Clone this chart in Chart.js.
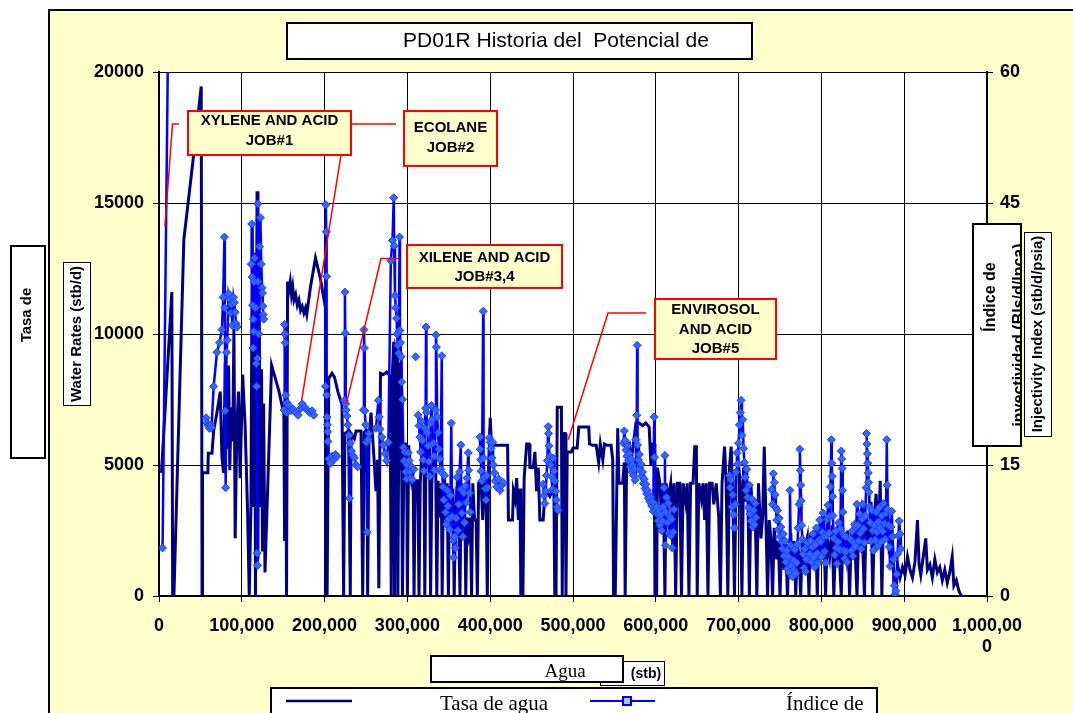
<!DOCTYPE html>
<html>
<head>
<meta charset="utf-8">
<script src="https://cdn.jsdelivr.net/npm/chart.js@4.4.1/dist/chart.umd.min.js"></script>
<style>
  html, body { margin: 0; padding: 0; background: #fff; }
  #wrap { position: relative; width: 1073px; height: 713px; }
</style>
</head>
<body>
<div id="wrap"><canvas id="chart"></canvas></div>
<script>
// PD01R - tasa de agua vs. índice de inyectividad (eje x: agua acumulada)

const NAVY  = '#000080';
const BLUE  = '#0000FF';
const PAPER = '#FFFFCC';
const SANS  = "'Liberation Sans', Arial, sans-serif";
const SERIF = "'Liberation Serif', 'Times New Roman', serif";

const titleText = 'PD01R Historia del  Potencial de';

const xTickLabels = ['0', '100,000', '200,000', '300,000', '400,000', '500,000',
  '600,000', '700,000', '800,000', '900,000', '1,000,000'];
const rateTicks  = [0, 5000, 10000, 15000, 20000];
const indexTicks = [0, 15, 30, 45, 60];

// Tasa de agua (stb/d) vs agua acumulada (miles de stb)
const aguaAcumK = [
  3, 15.5, 16.5, 18, 30, 41, 51, 52, 52.5, 59,
  59.5, 64, 66, 70, 74, 76, 78, 80, 82, 84,
  85.5, 87, 89, 90.5, 92, 94, 96, 98, 101, 104,
  107, 109, 111, 112.7, 114, 115.6, 116.5, 118.4, 119.5, 120.8,
  122, 123.8, 125, 126.3, 128, 136, 144.6, 150.8, 151.7, 153,
  154, 155.3, 157, 158.5, 160, 161.5, 163, 165, 167, 169,
  171, 173, 175, 177, 178.5, 183, 189, 195, 201, 201.5,
  203, 205, 209, 212, 216, 221, 223, 224.5, 229, 231,
  232, 236, 238, 244, 246, 248, 251, 252, 253.5, 256,
  259.6, 262, 264, 265.5, 267.5, 271, 275, 279, 280.5, 282,
  283.5, 284.5, 286, 287.5, 288.5, 290, 291, 292.5, 294, 296,
  299, 300, 301.5, 305, 307, 308, 309.5, 312, 313, 314,
  315.5, 318, 320, 321, 322.5, 325, 327, 328, 329.5, 332,
  334, 335.5, 337, 339, 341, 342, 343.5, 346, 348, 349.5,
  351, 353, 355, 356.5, 358, 360, 362, 363.5, 365, 367,
  369, 370.5, 372, 374, 376, 377.5, 379, 381, 383, 384.5,
  386, 389, 391, 393, 395, 396.5, 398, 400, 401.5, 405,
  410, 415, 421, 422, 427, 428, 430, 432, 434, 436,
  437, 439.5, 441, 444, 447, 448, 452, 454, 456, 458,
  460, 464, 466, 470, 472, 475, 477, 478, 479.5, 481,
  486, 487, 488.5, 490.5, 491.5, 493, 498, 500, 505, 507,
  513, 519, 520, 524, 528, 531, 533, 536, 538, 541,
  546, 548, 549, 551, 553, 554, 555.5, 560, 562, 563,
  565, 568, 570, 573, 576, 580, 584, 588, 592, 594,
  596, 598, 599, 601, 602, 605, 607, 609, 611, 612.5,
  615, 618, 620, 622, 624, 626, 629, 631, 633, 636,
  638, 640, 642, 645, 647, 649, 650, 652, 655, 657,
  659, 661, 663, 665, 668, 670, 673, 676, 678, 680,
  683, 685, 687, 689, 691, 693, 695, 697, 700, 702,
  704, 706, 709, 711, 713, 715, 717, 720, 722, 724,
  727, 729, 731, 733, 735, 737, 739, 741, 743, 746,
  748, 750, 752, 755, 757, 759, 761, 763, 765, 767,
  769, 771, 773, 775, 777, 780, 783, 785, 787, 790,
  793, 795, 797, 800, 803, 805, 807, 810, 813, 815,
  817, 820, 822, 824, 826, 829, 832, 834, 836, 839,
  841, 843, 845, 848, 850, 852, 854, 857, 860, 862,
  864, 866, 869, 871, 873, 875, 878, 880, 882, 884,
  886, 888, 890, 892, 895, 898, 901, 904, 907, 910,
  913, 916, 918, 920, 923, 926, 928, 931, 934, 937,
  940, 943, 946, 949, 952, 955, 958, 960, 963, 966,
  969
];
const tasaAgua = [
  4700, 11600, 0, 0, 13600, 16600, 19450, 0, 4700, 4700,
  5450, 5450, 6300, 7000, 7800, 5300, 4700, 8900, 5600, 8800,
  4800, 7200, 5900, 10200, 2200, 6400, 7800, 4500, 8450, 6500,
  3200, 0, 3400, 14100, 3400, 13100, 0, 15450, 1400, 13600,
  3400, 8650, 1700, 7350, 900, 8800, 7850, 6950, 2100, 8000,
  0, 12000, 11700, 12000, 11500, 11800, 11300, 11500, 11100, 11300,
  10900, 11050, 10800, 11000, 10750, 11800, 12900, 12100, 11000, 0,
  0, 8300, 8500, 8350, 7800, 7300, 0, 6200, 6300, 0,
  6200, 6000, 6300, 6300, 0, 6250, 6300, 0, 5900, 7000,
  5300, 4000, 5200, 300, 8500, 8450, 8550, 8400, 0, 8600,
  9700, 0, 9400, 9200, 0, 8900, 4800, 8700, 0, 5800,
  5800, 0, 5750, 4400, 4350, 0, 4400, 4400, 3500, 0,
  4300, 5800, 5600, 0, 5800, 5700, 4400, 0, 4300, 5800,
  5700, 0, 4400, 3000, 4300, 0, 4200, 2900, 4300, 0,
  4200, 3200, 4100, 0, 2900, 4200, 2900, 0, 4300, 2400,
  4200, 0, 3000, 2400, 3000, 0, 4300, 2900, 2900, 0,
  4300, 4300, 2900, 4400, 4200, 0, 4300, 6800, 5800, 5750,
  5750, 5750, 5750, 2900, 2900, 4000, 3700, 4500, 2900, 4100,
  0, 0, 4500, 5800, 5800, 4900, 4900, 5500, 4000, 4900,
  2900, 2900, 3900, 3900, 3800, 4000, 3900, 0, 0, 7200,
  7200, 0, 6200, 6200, 0, 5500, 5500, 5650, 5650, 6450,
  6450, 6450, 5800, 5750, 5750, 5100, 5800, 5200, 5800, 5750,
  5750, 5200, 0, 0, 4300, 6400, 4300, 4300, 5100, 0,
  5700, 5800, 5100, 5800, 6600, 6600, 6500, 6600, 6450, 5000,
  5800, 5800, 0, 0, 4900, 4300, 2900, 4300, 0, 4300,
  3700, 4300, 2900, 4300, 0, 4300, 4300, 0, 4300, 3600,
  4300, 0, 4300, 4300, 5700, 5700, 0, 4300, 3700, 4300,
  2900, 4300, 0, 4300, 4300, 3500, 4300, 3000, 0, 4300,
  5700, 4300, 0, 4900, 5700, 4000, 0, 4600, 5000, 4300,
  0, 4900, 3600, 4300, 0, 4200, 2900, 3300, 0, 4300,
  2200, 3000, 5700, 2900, 0, 2900, 2200, 0, 2600, 1400,
  2100, 0, 2200, 1000, 2000, 0, 1800, 2400, 900, 2100,
  0, 2000, 1500, 0, 2300, 1700, 2200, 0, 2400, 1800,
  2500, 0, 2300, 1400, 2600, 0, 2200, 1500, 2700, 0,
  2000, 2700, 1300, 0, 2300, 1600, 2500, 0, 2100, 2800,
  1500, 0, 2600, 3200, 1800, 0, 3000, 2000, 3600, 0,
  3000, 3900, 2200, 4400, 0, 3200, 2400, 3500, 1600, 2800,
  2000, 0, 0, 1200, 700, 1100, 800, 1500, 1000, 700,
  1300, 2900, 1200, 800, 1500, 2200, 1000, 1200, 700, 1400,
  900, 1100, 600, 1000, 500, 900, 1500, 400, 600, 200,
  0
];

// Índice de inyectividad (stb/d/psia) vs agua acumulada (miles de stb); null = sin dato
const aguaIndiceK = [
  4.3, 11, 30, 57, 58, 59.5, 61, 62.5, 63.5, 66,
  70, 73, 76, 77.5, 79, 79.5, 80, 80.5, 81.5, 82.5,
  84, 85.5, 86.5, 87.5, 88.5, 90, 91, 92, 93, 94.5,
  100, 111.5, 112, 112.5, 113, 113.5, 114, 114.5, 115, 115.5,
  116.5, 117.5, 118, 118.5, 118.8, 119, 119.3, 119.6, 120.5, 121.5,
  122.5, 123.5, 124.5, 125, 125.5, 126, 126.5, 140, 151, 151.5,
  152, 152.5, 153, 154, 155, 157, 159, 162, 165, 168,
  171, 173, 176, 179, 182, 185, 187, 195, 201, 201.5,
  202, 202.3, 202.6, 203, 203.3, 203.6, 204, 205, 207, 209,
  211, 213, 215, 220, 224, 224.5, 225, 225.5, 226, 227,
  228, 229.5, 230, 231, 232.5, 234, 236, 238, 240, 244,
  247, 247.5, 248, 248.5, 249.5, 250.5, 251.5, 252.5, 253.5, 258,
  262, 265, 266, 267, 269, 271, 273, 275, 277, 280,
  282, 283.5, 284, 285, 286, 287, 287.5, 288.5, 289.5, 290.5,
  291, 291.5, 292.5, 293, 294, 295, 296, 297, 298, 299,
  300, 301, 302, 303, 304, 305, 306, 308, 309, 310,
  311, 313, 314, 315, 316, 317, 318, 319, 320, 321,
  322, 322.5, 323, 324, 325, 326, 327, 328, 329, 330,
  331, 332, 333, 334, 334.5, 335, 336, 337, 338, 339,
  340, 341.5, 342, 343, 344, 345, 346, 347, 348, 349,
  350, 351, 352, 353, 354, 355, 356, 357, 358, 359,
  360, 361, 362, 363, 364.5, 365, 366, 367, 368, 369,
  370, 371, 372, 373.5, 374, 375, 376, 382, 387.5, 388,
  388.5, 389, 390, 391.5, 392, 393, 394, 395, 396, 397,
  399, 400, 401, 402, 403, 404, 405, 406, 408, 410,
  412, 414, 415.5, 440, 464, 465, 466, 467, 468, 469,
  470, 470.5, 471, 472, 473, 474, 475, 476, 477, 478,
  479, 480, 481, 482, 520, 561, 562, 563, 564, 565,
  566, 567, 568, 569, 570, 571, 572, 573, 574, 575,
  576, 577, 577.5, 578, 579, 580, 581, 582, 583, 584,
  585, 586, 587, 588, 589, 590, 591, 592, 593, 594,
  595, 596, 597, 598, 598.5, 599, 600, 601, 602, 603,
  604, 605, 606, 607, 608, 609, 610, 611, 611.5, 612,
  613, 614, 615, 616, 617, 618, 619, 620, 621, 622,
  650, 689, 690, 691, 692, 693, 694, 695, 696, 697,
  698, 699, 700, 701, 702, 703, 704, 705, 706, 707,
  708, 709, 710, 711, 712, 713, 714, 715, 716, 717,
  718, 719, 720, 721, 730, 740, 741, 742, 743, 744,
  745, 746, 747, 748, 749, 750, 751, 752, 753, 754,
  755, 756, 757, 758, 759, 760, 761, 762, 763, 764,
  765, 766, 767, 768, 769, 770, 771, 772, 773, 774,
  774.5, 775, 775.5, 776, 777, 778, 779, 780, 781, 782,
  783, 786, 787, 788, 789, 790, 791, 792, 793, 794,
  795, 796, 797, 798, 799, 800, 801, 802, 803, 804,
  805, 806, 807, 808, 809, 810, 811, 812, 812.5, 813,
  813.5, 814, 815, 816, 817, 818, 819, 820, 821, 822,
  823, 824, 824.5, 825, 825.5, 826, 826.5, 827, 828, 829,
  830, 831, 835, 836, 837, 838, 839, 840, 841, 842,
  843, 844, 845, 846, 847, 848, 849, 850, 851, 852,
  853, 854, 854.5, 855, 855.5, 856, 856.5, 857, 857.5, 858,
  859, 860, 861, 862, 863, 864, 865, 866, 867, 868,
  869, 870, 871, 872, 873, 874, 875, 876, 877, 878,
  879, 879.5, 880, 881, 882, 883, 884, 885, 886, 887,
  888, 889, 890, 891, 892, 893, 894, 895, 896
];
const indiceIny = [
  5.5, 64, null, 20.4, 19.8, 19.5, 19.2, 19.6, 19.3, 24,
  27.9, 29, 30.5, 34.2, 41.1, 33, 21.2, 12.4, 27.9, 29.3,
  34.6, 34, 32.4, 33.4, 31, 34.2, 33.6, 32.5, 31.2, 30.8,
  null, 38, 42.6, 36.5, 33.3, 28.4, 31.7, 30.3, 36, 38.7,
  33, 26.6, 24, 4.9, 3.5, 27.2, 44.9, 36, 30, 40,
  43.3, 38, 35.3, 34.7, 33.2, 32.2, 31.7, null, 21.3, 31.1,
  30, 29, 23, 21, 22.1, 21.8, 21.2, 21.4, 21, 20.7,
  21.5, 22, 21.6, 21.3, 21, 21.2, 20.7, null, 24, 44.8,
  41.7, 36.6, 23, 20.5, 19.6, 18.8, 17.7, 15.7, 15.2, 16,
  15.6, 16.2, 16, null, 22.4, 34.8, 30.1, 22, 21.3, 20.6,
  19.6, 18.4, 11.2, 17.5, 16.6, 16.1, 15.8, 15, 14.8, null,
  21.3, 30.5, 28.4, 21.2, 19.6, 17.6, 7.3, 17.9, 18.6, null,
  19.2, 22.4, 20.5, 19.1, 18.2, 17.3, 16.3, 15.5, 17.6, 38.4,
  40.7, 45.6, 40.1, 34.4, 33, 31.8, 30, 28.7, 27.8, 41.1,
  30.4, 29, 27.4, 24.5, 22.5, 17, 15.5, 16.5, 14.2, 13.4,
  15, 16.4, 15.5, 14.2, 13.5, 14.8, 13.3, 14.5, null, 27.4,
  null, 20.7, 19.5, 18.2, 16.5, 20, 17.8, 15.6, 14.3, 19.2,
  21.5, 30.8, 21, 18.7, 17.2, 15.4, 13.7, 19.8, 21.8, 20.2,
  17.5, 16, 14.4, 21.3, 29.9, 28.5, 20.5, 18.7, 16.8, 15.7,
  14.5, 27.5, 14.1, 12.5, 11, 13.8, 9.6, 8.2, 12.1, 10.3,
  8.8, 7.6, 11.5, 19.8, 9.1, 6.4, 4.4, 6.8, 5.5, 8.9,
  13.6, 7.5, 10.5, 14.2, 17.3, 12.2, 9.5, 6.8, 11.8, 8.4,
  12.6, 10.7, 13.5, 16.4, 14.4, 11.8, 9.6, null, 18.2, 16.8,
  15.6, 14.3, 13.2, 32.6, 15.8, 13.6, 12.3, 11, 13.8, 12.4,
  18.1, 17.6, 16.9, 15.8, 17.6, 15, 14.1, 13.2, 12.5, 13.4,
  12.1, 12.7, 13, null, 12.8, 11.5, 10.6, 12, 13.8, 15.5,
  19.4, 18.6, 17.2, 16, 15, 13.7, 12.2, 15.8, 14.3, 13.2,
  12, 11, 10.2, 9.8, null, 17.5, 18.9, 17.8, 16.7, 16,
  17.2, 15.5, 16.3, 14.8, 15.7, 14.2, 15, 13.8, 14.5, 13.3,
  17.9, 20.7, 28.7, 17.3, 15.6, 16.2, 14.4, 15.1, 13.7, 14.2,
  12.9, 13.4, 12.3, 12.8, 11.7, 12.1, 11.2, 11.6, 10.8, 11.3,
  10.3, 10.8, 9.7, 20.5, 15.9, 10.5, 9.8, 10.2, 9.4, 8.6,
  9.7, 8.1, 9.3, 7.5, 8.6, 10.2, 12.4, 16.1, 5.8, 9.6,
  11.3, 8.4, 10.6, 7.2, 9.1, 6.9, 8.8, 5.5, 7.3, 9.9,
  null, 13.8, 12.4, 13.3, 10.2, 11.6, 9.3, 7.8, 10.5, 14.2,
  16.4, 15.1, 17.5, 19.6, 21, 22.4, 18.4, 20.2, 16.9, 15.3,
  13.6, 12.1, 14.5, 11.3, 10.1, 12.7, 9.4, 8.6, 11.1, 7.9,
  9.8, 8.2, 10.6, 9, null, 12.2, 10.5, 14, 13, 11.6,
  10.1, 8.7, 9.8, 7.6, 8.9, 6.8, 7.9, 6.2, 5.4, 7.1,
  4.6, 6.3, 3.9, 5.2, 3.1, 4.5, 2.7, 12.1, 5.8, 3.5,
  2.2, 4.1, 3, 5.3, 2.6, 3.8, 5.9, 7.8, 10.5, 16.8,
  14.4, 12.7, 10.9, 8.1, 6.5, 4.8, 3.2, 5.4, 2.8, 4.2,
  6.1, 4.8, 6.3, 3.9, 5.6, 7.1, 4.4, 3.3, 5.9, 7.8,
  4.9, 3.8, 6.4, 8.7, 6.2, 4.5, 7.3, 9.5, 6.8, 5.1,
  3.8, 6.9, 8.8, 10.4, 7.2, 9.1, 12.5, 17.9, 15.2, 13.7,
  11.4, 9.2, 6.6, 4.7, 7.4, 5.5, 3.7, 6.2, 8.4, 5.3,
  7.7, 16.6, 15.7, 14.6, 12.1, 9.6, 7.1, 5.2, 4.3, 6.8,
  5.1, 3.9, 6.5, 5.2, 7.4, 4.6, 6.1, 8.2, 5.7, 7.9,
  10.5, 8.1, 6.3, 9.4, 7.2, 5.4, 8.8, 10.5, 7.7, 6.1,
  9.2, 12.4, 18.6, 17.4, 16.3, 15.2, 14.1, 13, 11.9, 10.2,
  8.4, 6.3, 9.8, 7.5, 5.2, 8.1, 6.4, 9.6, 7.3, 5.7,
  8.5, 10.1, 7.8, 6.2, 9.2, 7.4, 10.6, 8.3, 6.5, 9.5,
  17.9, 12.7, 9.9, 8.1, 5.6, 3.4, 7.9, 9.7, 6.8, 4.2,
  1.2, 0.2, 0.6, 2.5, 4.8, 6.9, 8.6, 7.1, 5.4
];

// llamadas de trabajos (cajas rojas); tip = [agua acum. K, índice]
const jobNotes = [
  { lines: ['XYLENE AND ACID', 'JOB#1'], box: [188, 111, 163, 44], ly: [121, 141],
    from: [179, 124], elbow: [172.5, 124], tip: [7.2, 42.3] },
  { lines: ['ECOLANE', 'JOB#2'], box: [404, 111, 93, 55], ly: [127.5, 147.5],
    from: [396, 124], elbow: [346, 124], tip: [172.3, 22.4] },
  { lines: ['XILENE AND ACID', 'JOB#3,4'], box: [407, 245, 155, 43], ly: [258, 277],
    from: [398, 258.5], elbow: [381, 258.5], tip: [226.3, 22] },
  { lines: ['ENVIROSOL', 'AND ACID', 'JOB#5'], box: [655, 299, 121, 60], ly: [310, 329.5, 348.5],
    from: [646, 313], elbow: [608, 313], tip: [494.3, 17.9] },
];

const ratePts  = aguaAcumK.map((k, i) => ({ x: k * 1000, y: tasaAgua[i] }));
const indexPts = aguaIndiceK.map((k, i) => ({ x: k * 1000, y: indiceIny[i] }));

function rect(ctx, x, y, w, h, fill, stroke, lw) {
  ctx.fillStyle = fill;
  ctx.fillRect(x, y, w, h);
  ctx.strokeStyle = stroke;
  ctx.lineWidth = lw;
  ctx.strokeRect(x, y, w, h);
}

function vtext(ctx, text, cx, cy, font, baseline) {
  ctx.save();
  ctx.translate(cx, cy);
  ctx.rotate(-Math.PI / 2);
  ctx.font = font;
  ctx.fillStyle = '#000';
  ctx.textAlign = 'center';
  ctx.textBaseline = baseline || 'middle';
  ctx.fillText(text, 0, 0);
  ctx.restore();
}

const paperPlugin = {
  id: 'paper',
  beforeDraw(chart) {
    const { ctx, chartArea: a, width, height } = chart;
    ctx.save();
    ctx.fillStyle = '#fff';
    ctx.fillRect(0, 0, width, height);
    ctx.fillStyle = PAPER;
    ctx.fillRect(49, 10, width - 49, height - 10);
    ctx.strokeStyle = '#000';
    ctx.lineWidth = 2;
    ctx.beginPath();
    ctx.moveTo(49, height);
    ctx.lineTo(49, 10);
    ctx.lineTo(width, 10);
    ctx.stroke();
    ctx.fillStyle = '#fff';
    ctx.fillRect(a.left, a.top, a.right - a.left, a.bottom - a.top);
    ctx.restore();
  },
  afterDraw(chart) {
    const { ctx } = chart;
    const sx = chart.scales.x, sy = chart.scales.y1;
    ctx.save();

    // líneas guía rojas
    ctx.strokeStyle = '#FF0000';
    ctx.lineWidth = 1.5;
    for (const n of jobNotes) {
      ctx.beginPath();
      ctx.moveTo(n.from[0], n.from[1]);
      ctx.lineTo(n.elbow[0], n.elbow[1]);
      ctx.lineTo(sx.getPixelForValue(n.tip[0] * 1000), sy.getPixelForValue(n.tip[1]));
      ctx.stroke();
    }
    for (const n of jobNotes) {
      const [bx, by, bw, bh] = n.box;
      rect(ctx, bx, by, bw, bh, PAPER, '#FF0000', 2);
      ctx.fillStyle = '#000';
      ctx.font = `bold 15px ${SANS}`;
      ctx.textAlign = 'center';
      ctx.textBaseline = 'middle';
      n.lines.forEach((t, i) => ctx.fillText(t, bx + bw / 2, n.ly[i]));
    }

    // título
    rect(ctx, 287, 23, 465, 36, '#fff', '#000', 2);
    ctx.fillStyle = '#000';
    ctx.font = `21px ${SANS}`;
    ctx.textAlign = 'left';
    ctx.textBaseline = 'alphabetic';
    ctx.fillText(titleText, 403, 47);

    // títulos de eje izquierdo
    rect(ctx, 11, 246, 34, 212, '#fff', '#000', 2);
    vtext(ctx, 'Tasa de', 27, 315, `bold 15px ${SANS}`);
    rect(ctx, 63.5, 262.5, 27, 143, '#fff', '#000', 1);
    vtext(ctx, 'Water Rates (stb/d)', 77, 334, `bold 15px ${SANS}`);

    // títulos de eje derecho
    rect(ctx, 973, 224, 48, 222, '#fff', '#000', 2);
    ctx.save();
    ctx.beginPath();
    ctx.rect(974, 225, 46, 220);
    ctx.clip();
    vtext(ctx, 'Índice de', 995, 297, `bold 16px ${SANS}`, 'alphabetic');
    vtext(ctx, 'inyectividad (Bls/d/lpca)', 1024, 335, `bold 16px ${SANS}`, 'alphabetic');
    ctx.restore();
    rect(ctx, 1024.5, 232.5, 27, 204, '#fff', '#000', 1);
    vtext(ctx, 'Injectivity Index (stb/d/psia)', 1038, 334, `bold 15px ${SANS}`);

    // título de eje x
    rect(ctx, 600.5, 661.5, 64, 24, '#fff', '#000', 1);
    ctx.fillStyle = '#000';
    ctx.font = `bold 14px ${SANS}`;
    ctx.textAlign = 'center';
    ctx.textBaseline = 'middle';
    ctx.fillText('(stb)', 646, 674);
    rect(ctx, 431, 656, 192, 26, '#fff', '#000', 2);
    ctx.fillStyle = '#000';
    ctx.font = `19px ${SERIF}`;
    ctx.textBaseline = 'alphabetic';
    ctx.fillText('Agua', 565, 677);

    // leyenda
    rect(ctx, 271, 688, 606, 30, '#fff', '#000', 2);
    ctx.strokeStyle = NAVY;
    ctx.lineWidth = 2.5;
    ctx.beginPath(); ctx.moveTo(286, 701); ctx.lineTo(352, 701); ctx.stroke();
    ctx.strokeStyle = BLUE;
    ctx.lineWidth = 2;
    ctx.beginPath(); ctx.moveTo(590, 701); ctx.lineTo(655, 701); ctx.stroke();
    rect(ctx, 623, 697, 8, 8, '#99CCFF', BLUE, 2);
    ctx.fillStyle = '#000';
    ctx.font = `21px ${SERIF}`;
    ctx.textAlign = 'left';
    ctx.fillText(chart.data.datasets[0].label, 440, 710);
    ctx.fillText(chart.data.datasets[1].label, 786, 710);

    ctx.restore();
  }
};

const tickFont = { family: SANS, size: 18, weight: 'bold' };

new Chart(document.getElementById('chart'), {
  type: 'line',
  data: {
    datasets: [
      {
        label: 'Tasa de agua',
        data: ratePts,
        yAxisID: 'y',
        borderColor: NAVY,
        backgroundColor: NAVY,
        borderWidth: 3,
        pointRadius: 0,
        tension: 0,
        order: 2,
      },
      {
        label: 'Índice de',
        data: indexPts,
        yAxisID: 'y1',
        borderColor: BLUE,
        backgroundColor: '#3366FF',
        borderWidth: 2.5,
        pointStyle: 'rectRot',
        pointRadius: 4,
        pointBackgroundColor: '#3366FF',
        pointBorderColor: '#1F3DFF',
        pointBorderWidth: 1,
        spanGaps: false,
        tension: 0,
        order: 1,
      },
    ],
  },
  options: {
    responsive: true,
    maintainAspectRatio: false,
    animation: false,
    layout: { padding: { top: 72, left: 0, right: 0, bottom: 0 } },
    plugins: {
      legend: { display: false },
      tooltip: { enabled: false },
    },
    scales: {
      x: {
        type: 'linear',
        min: 0, max: 1000000,
        ticks: {
          stepSize: 100000,
          autoSkip: false, maxRotation: 0, minRotation: 0,
          color: '#000', font: tickFont, padding: 13,
          callback: (v, i) => {
            const s = xTickLabels[i];
            return s.length > 8 ? [s.slice(0, 8), s.slice(8)] : s;
          },
        },
        grid: { color: '#000', lineWidth: 1, tickLength: 6 },
        border: { color: '#000', width: 2 },
        afterFit: s => { s.height = 117; },
      },
      y: {
        position: 'left',
        min: rateTicks[0], max: rateTicks[rateTicks.length - 1],
        afterBuildTicks: s => { s.ticks = rateTicks.map(v => ({ value: v })); },
        ticks: { color: '#000', font: tickFont, padding: 9, callback: v => String(v) },
        grid: { color: '#000', lineWidth: 1, tickLength: 6 },
        border: { color: '#000', width: 2 },
        afterFit: s => { s.width = 159; },
      },
      y1: {
        position: 'right',
        min: indexTicks[0], max: indexTicks[indexTicks.length - 1],
        afterBuildTicks: s => { s.ticks = indexTicks.map(v => ({ value: v })); },
        ticks: { color: '#000', font: tickFont, padding: 7, callback: v => String(v) },
        grid: { drawOnChartArea: false, color: '#000', lineWidth: 1, tickLength: 6 },
        border: { color: '#000', width: 2 },
        afterFit: s => { s.width = 86; },
      },
    },
  },
  plugins: [paperPlugin],
});
</script>
</body>
</html>
